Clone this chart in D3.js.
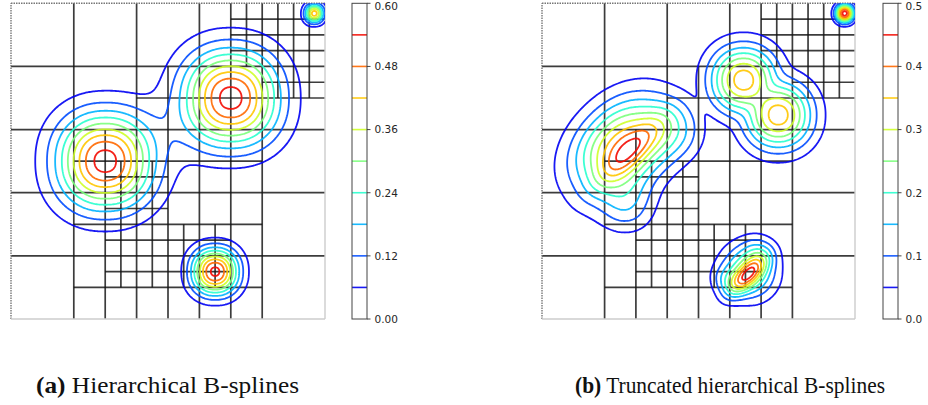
<!DOCTYPE html>
<html><head><meta charset="utf-8">
<script src="https://cdn.jsdelivr.net/npm/d3@7"></script>
<style>body{margin:0;background:#fff;} svg{display:block;}</style>
</head><body>
<svg id="chart" width="928" height="405"></svg>
<script>
// ================= DATA =================
// Hierarchical mesh (identical in both panels), domain units.
// vertical lines: [x, yFrom, yTo]
const meshVertical = [
  [0.2,0,1],[0.4,0,1],[0.6,0,1],[0.8,0,1],
  [0.3,0,0.6],[0.5,0,0.8],[0.7,0,1],[0.9,0.7,1],
  [0.35,0.1,0.5],[0.45,0.1,0.5],[0.55,0.1,0.3],[0.65,0.1,0.3],
  [0.75,0.8,1],[0.85,0.7,1],[0.95,0.7,1]
];
// horizontal lines: [y, xFrom, xTo]
const meshHorizontal = [
  [0.2,0,1],[0.4,0,1],[0.6,0,1],[0.8,0,1],
  [0.1,0.2,0.8],[0.3,0.2,0.8],[0.5,0.2,0.8],[0.7,0.4,1],[0.9,0.7,1],
  [0.15,0.3,0.7],[0.25,0.3,0.7],[0.35,0.3,0.5],[0.45,0.3,0.5],
  [0.75,0.8,1],[0.85,0.7,1],[0.95,0.7,1]
];

// Panel (a) bumps of the plotted field (centre, height, spreads, angle, group)
const aX     = [0.300, 0.700, 0.650, 0.966];
const aY     = [0.500, 0.700, 0.150, 0.968];
const aAmp   = [0.57, 0.57, 0.56, 0.45];
const aSa    = [0.105, 0.105, 0.051, 0.021];
const aSb    = [0.105, 0.105, 0.051, 0.021];
const aAng   = [0, 0, 0, 0];
const aGroup = [0, 1, 2, 3];

// Panel (b) bumps
const bX     = [0.278, 0.255, 0.420, 0.275, 0.644, 0.755, 0.655, 0.660, 0.585, 0.690, 0.967];
const bY     = [0.528, 0.545, 0.600, 0.355, 0.757, 0.646, 0.137, 0.150, 0.125, 0.215, 0.968];
const bAmp   = [0.11, 0.38, 0.11, 0.10, 0.38, 0.38, 0.23, 0.25, 0.07, 0.07, 0.48];
const bSa    = [0.100, 0.120, 0.065, 0.060, 0.075, 0.075, 0.055, 0.060, 0.030, 0.035, 0.020];
const bSb    = [0.030, 0.088, 0.065, 0.060, 0.075, 0.075, 0.022, 0.060, 0.030, 0.035, 0.020];
const bAng   = [45, 45, 0, 0, 0, 0, 45, 0, 0, 0, 0];
const bGroup = [0, 0, 0, 0, 1, 2, 3, 3, 3, 3, 4];

// contour levels and colour-bar ticks
const aLevels = [0.06,0.12,0.18,0.24,0.30,0.36,0.42,0.48,0.54];
const bLevels = [0.05,0.10,0.15,0.20,0.25,0.30,0.35,0.40,0.45];
const aTicks = [0.00,0.12,0.24,0.36,0.48,0.60];
const aTickLabels = ["0.00","0.12","0.24","0.36","0.48","0.60"];
const bTicks = [0.0,0.1,0.2,0.3,0.4,0.5];
const bTickLabels = ["0.0","0.1","0.2","0.3","0.4","0.5"];
const captionA = ["(a)", " Hierarchical B-splines"];
const captionB = ["(b)", " Truncated hierarchical B-splines"];

// ================= HELPERS =================
function jet(t){
  const seg = pts => { for(let i=1;i<pts.length;i++){ if(t<=pts[i][0]){ const [x0,y0]=pts[i-1],[x1,y1]=pts[i]; return y0+(y1-y0)*(t-x0)/(x1-x0);} } return pts[pts.length-1][1]; };
  const r = seg([[0,0],[0.35,0],[0.66,1],[0.89,1],[1,0.5]]);
  const g = seg([[0,0],[0.125,0],[0.375,1],[0.64,1],[0.91,0],[1,0]]);
  const b = seg([[0,0.5],[0.11,1],[0.34,1],[0.65,0],[1,0]]);
  return d3.rgb(r*255,g*255,b*255).formatHex();
}

const svg = d3.select("#chart");
const defs = svg.append("defs");

function makeComps(X,Y,A,Sa,Sb,Ang,G){
  return X.map((x,i)=>({cx:x, cy:Y[i], amp:A[i], sa:Sa[i], sb:Sb[i], ang:Ang[i]*Math.PI/180, g:G[i]}));
}

function drawPanel(cfg){
  const xS = d3.scaleLinear().domain([0,1]).range([cfg.left, cfg.right]);
  const yS = d3.scaleLinear().domain([0,1]).range([cfg.bottom, cfg.top]);
  const g = svg.append("g");
  const clipId = "clip"+cfg.id;
  defs.append("clipPath").attr("id",clipId).append("rect")
    .attr("x",cfg.left).attr("y",cfg.top).attr("width",cfg.right-cfg.left).attr("height",cfg.bottom-cfg.top);

  // mesh
  const mesh = g.append("g").attr("stroke","#111").attr("stroke-width",1.7).attr("stroke-opacity",0.82);
  mesh.selectAll("line.v").data(meshVertical).join("line").attr("class","v")
    .attr("x1",d=>xS(d[0])).attr("x2",d=>xS(d[0])).attr("y1",d=>yS(d[1])).attr("y2",d=>yS(d[2]));
  mesh.selectAll("line.h").data(meshHorizontal).join("line").attr("class","h")
    .attr("y1",d=>yS(d[0])).attr("y2",d=>yS(d[0])).attr("x1",d=>xS(d[1])).attr("x2",d=>xS(d[2]));
  // boundary
  g.append("line").attr("x1",xS(0)).attr("x2",xS(1)).attr("y1",yS(1)).attr("y2",yS(1))
    .attr("stroke","#777").attr("stroke-width",1.4).attr("stroke-dasharray","1.5,1");
  g.append("line").attr("x1",xS(0)).attr("x2",xS(0)).attr("y1",yS(0)).attr("y2",yS(1))
    .attr("stroke","#777").attr("stroke-width",1.4).attr("stroke-dasharray","1.5,1");
  g.append("line").attr("x1",xS(1)).attr("x2",xS(1)).attr("y1",yS(0)).attr("y2",yS(1))
    .attr("stroke","#ccc").attr("stroke-width",1.4);
  g.append("line").attr("x1",xS(0)).attr("x2",xS(1)).attr("y1",yS(0)).attr("y2",yS(0))
    .attr("stroke","#ccc").attr("stroke-width",1.4);

  // field on grid
  const N = 260, x0 = -0.02, span = 1.04, h = span/N;
  const comps = cfg.comps, k = cfg.k, p = cfg.p;
  const ng = d3.max(comps, c=>c.g)+1;
  const values = new Float64Array(N*N);
  const acc = new Float64Array(ng);
  for(let j=0;j<N;j++){
    const y = x0 + (j+0.5)*h;
    for(let i=0;i<N;i++){
      const x = x0 + (i+0.5)*h;
      acc.fill(0);
      for(const c of comps){
        const dx=x-c.cx, dy=y-c.cy;
        const u=(dx*Math.cos(c.ang)+dy*Math.sin(c.ang))/c.sa;
        const v=(-dx*Math.sin(c.ang)+dy*Math.cos(c.ang))/c.sb;
        const d2 = Math.pow(Math.pow(Math.abs(u),p)+Math.pow(Math.abs(v),p), 2/p);
        acc[c.g] += c.amp*Math.exp(-d2/2);
      }
      let s=0; for(let q=0;q<ng;q++) s += Math.pow(acc[q],k);
      values[j*N+i] = Math.pow(s,1/k);
    }
  }
  const contours = d3.contours().size([N,N]).thresholds(cfg.levels)(values);
  const proj = d3.geoTransform({point:function(px,py){ this.stream.point(xS(x0+px*h), yS(x0+py*h)); }});
  const path = d3.geoPath(proj);
  g.append("g").attr("clip-path",`url(#${clipId})`)
    .selectAll("path").data(contours).join("path")
    .attr("d",path).attr("fill","none")
    .attr("stroke",d=>jet(d.value/cfg.vmax)).attr("stroke-width",1.8).attr("stroke-opacity",0.9)
    .attr("stroke-linejoin","round");

  // colour bar
  const cS = d3.scaleLinear().domain([0,cfg.vmax]).range([cfg.bottom, cfg.top]);
  const cb = svg.append("g");
  cb.append("rect").attr("x",cfg.cbX).attr("y",cfg.top).attr("width",cfg.cbW).attr("height",cfg.bottom-cfg.top)
    .attr("fill","#fff");
  cb.selectAll("line.lev").data(cfg.levels).join("line").attr("class","lev")
    .attr("x1",cfg.cbX).attr("x2",cfg.cbX+cfg.cbW).attr("y1",d=>cS(d)).attr("y2",d=>cS(d))
    .attr("stroke",d=>jet(d/cfg.vmax)).attr("stroke-width",1.6).attr("stroke-opacity",0.9);
  cb.append("rect").attr("x",cfg.cbX).attr("y",cfg.top).attr("width",cfg.cbW).attr("height",cfg.bottom-cfg.top)
    .attr("fill","none").attr("stroke","#444").attr("stroke-width",1);
  cb.selectAll("line.tk").data(cfg.ticks).join("line").attr("class","tk")
    .attr("x1",cfg.cbX+cfg.cbW).attr("x2",cfg.cbX+cfg.cbW+3.5).attr("y1",d=>cS(d)).attr("y2",d=>cS(d))
    .attr("stroke","#333").attr("stroke-width",0.9);
  cb.selectAll("text").data(cfg.ticks).join("text")
    .attr("x",cfg.cbX+cfg.cbW+7.5).attr("y",d=>Math.max(cS(d),6)).attr("dy","0.36em")
    .style("font-family","DejaVu Sans").style("font-size","10.5px").attr("fill","#262626")
    .text((d,i)=>cfg.tickLabels[i]);

  // caption
  const t = svg.append("text").attr("x",cfg.capX).attr("y",393)
    .style("font-family","Liberation Serif").style("font-size","23px").attr("fill","#111")
    .attr("textLength",cfg.capLen).attr("lengthAdjust","spacingAndGlyphs");
  t.append("tspan").attr("font-weight","bold").text(cfg.caption[0]);
  t.append("tspan").text(cfg.caption[1]);
}

drawPanel({id:"a", left:11, right:325, top:3.3, bottom:319,
  comps: makeComps(aX,aY,aAmp,aSa,aSb,aAng,aGroup), k:1, p:2.2,
  levels:aLevels, vmax:0.6, ticks:aTicks, tickLabels:aTickLabels,
  cbX:352, cbW:15, caption:captionA, capX:36, capLen:263});
drawPanel({id:"b", left:542, right:855, top:3.3, bottom:319,
  comps: makeComps(bX,bY,bAmp,bSa,bSb,bAng,bGroup), k:3, p:2.1,
  levels:bLevels, vmax:0.5, ticks:bTicks, tickLabels:bTickLabels,
  cbX:883, cbW:15, caption:captionB, capX:575, capLen:310});
</script>
</body></html>
